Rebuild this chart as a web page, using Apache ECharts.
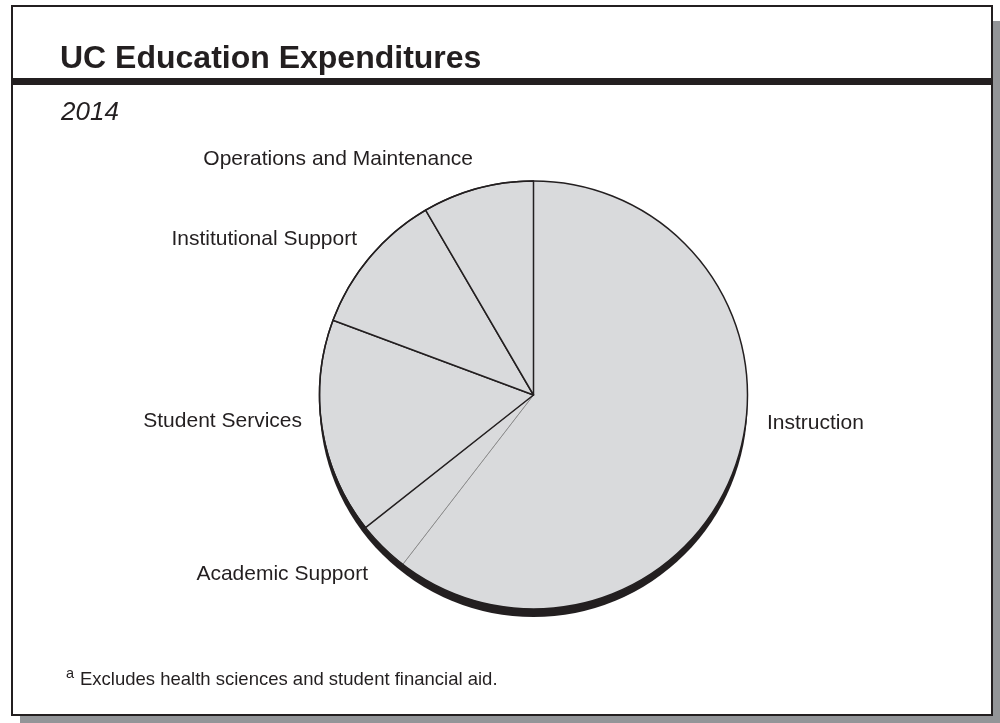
<!DOCTYPE html>
<html>
<head>
<meta charset="utf-8">
<script src="https://cdn.jsdelivr.net/npm/echarts@6/dist/echarts.min.js"></script>
<style>
html,body{margin:0;padding:0;background:#fff;}
#chart{width:1000px;height:723px;}
</style>
</head>
<body>
<div id="chart"></div>
<script>
// ---- data ----
const categories = ['Instruction', 'Academic Support', 'Student Services', 'Institutional Support', 'Operations and Maintenance'];
const shares = [60.4, 3.9, 16.3, 10.9, 8.4];
const titleText = 'UC Education Expenditures';
const subtitleText = '2014';
const footnoteMark = 'a';
const footnoteText = 'Excludes health sciences and student financial aid.';

// ---- layout / style (not data) ----
const FONT = '"Liberation Sans", Arial, Helvetica, sans-serif';
const INK = '#231f20';
const FILL = '#d9dadc';
const CENTER = [533.5, 395];
const RADIUS = 214;
const labelAnchors = [
  { x: 767, y: 423, align: 'left' },
  { x: 368, y: 574, align: 'right' },
  { x: 302, y: 421, align: 'right' },
  { x: 357, y: 239, align: 'right' },
  { x: 473, y: 159, align: 'right' }
];
const sliceStyles = [
  { borderWidth: 0 },
  { borderColor: '#8c8c8c', borderWidth: 1 },
  {}, {}, {}
];

const chart = echarts.init(document.getElementById('chart'), null, { renderer: 'canvas' });

const option = {
  animation: false,
  backgroundColor: '#ffffff',
  title: [
    {
      text: titleText, left: 60, top: 43, padding: 0,
      textStyle: { fontFamily: FONT, fontSize: 32, fontWeight: 'bold', color: INK }
    },
    {
      text: subtitleText, left: 61, top: 100, padding: 0,
      textStyle: { fontFamily: FONT, fontSize: 26, fontStyle: 'italic', fontWeight: 'normal', color: INK }
    }
  ],
  graphic: [
    { type: 'rect', z: -10, silent: true, shape: { x: 20, y: 21, width: 980, height: 702 }, style: { fill: '#939598' } },
    { type: 'rect', z: -9, silent: true, shape: { x: 12, y: 6, width: 980, height: 709 }, style: { fill: '#ffffff', stroke: INK, lineWidth: 2 } },
    { type: 'rect', z: -8, silent: true, shape: { x: 12, y: 78, width: 980, height: 7 }, style: { fill: INK } },
    { type: 'text', z: 5, silent: true, x: 66, y: 674, style: { text: footnoteMark, fontFamily: FONT, fontSize: 14.5, fill: INK, verticalAlign: 'middle', align: 'left' } },
    { type: 'text', z: 5, silent: true, x: 80, y: 680, style: { text: footnoteText, fontFamily: FONT, fontSize: 18.5, fill: INK, verticalAlign: 'middle', align: 'left' } }
  ],
  series: [
    {
      type: 'pie', name: 'rim', silent: true, z: 1,
      center: [CENTER[0], CENTER[1] + 8], radius: RADIUS,
      label: { show: false }, labelLine: { show: false },
      itemStyle: { color: INK },
      emphasis: { disabled: true },
      data: [{ value: 1, name: 'rim' }]
    },
    {
      type: 'pie', name: 'UC Education Expenditures', z: 2,
      center: CENTER, radius: RADIUS,
      startAngle: 90, clockwise: true,
      avoidLabelOverlap: false,
      itemStyle: { color: FILL, borderColor: INK, borderWidth: 1.5 },
      label: { show: true, position: 'outside', color: INK, fontFamily: FONT, fontSize: 21, formatter: '{b}' },
      labelLine: { show: false },
      labelLayout: function (params) {
        const a = labelAnchors[params.dataIndex];
        return { x: a.x, y: a.y, align: a.align, verticalAlign: 'middle' };
      },
      emphasis: { disabled: true },
      data: categories.map((c, i) => ({ name: c, value: shares[i], itemStyle: sliceStyles[i] }))
    },
    {
      type: 'pie', name: 'outline', silent: true, z: 3,
      center: CENTER, radius: RADIUS,
      label: { show: false }, labelLine: { show: false },
      itemStyle: { color: 'rgba(0,0,0,0)', borderColor: INK, borderWidth: 1.5 },
      emphasis: { disabled: true },
      data: [{ value: 1, name: 'outline' }]
    }
  ]
};
chart.setOption(option);
</script>
</body>
</html>
